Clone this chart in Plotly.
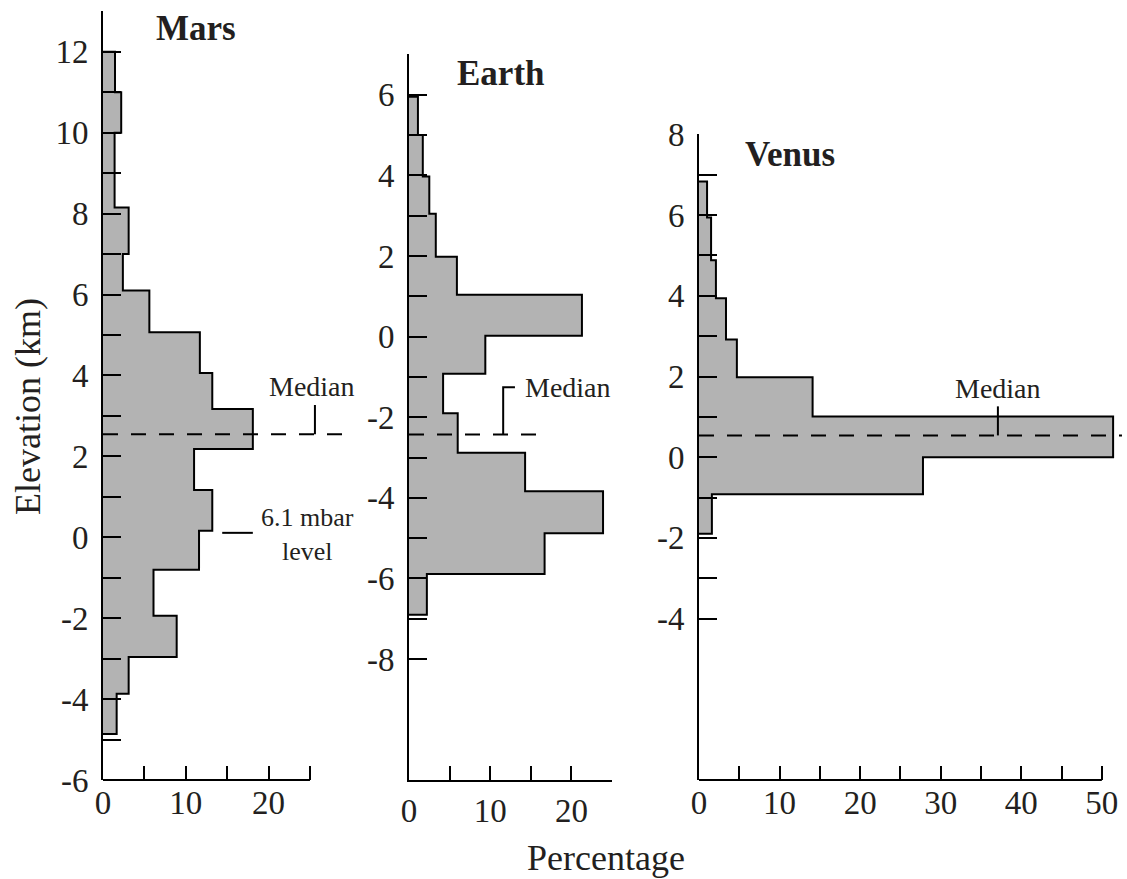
import plotly.graph_objects as go

# ---------------- data ----------------
# bin edges (km, bottom -> top) and percentage of surface per bin
mars_edges = [-4.86, -3.87, -2.96, -1.94, -0.80, 0.16, 1.17, 2.18, 3.17, 4.06,
              5.07, 6.10, 7.00, 8.15, 10.0, 11.0, 12.0]
mars_pct = [1.65, 3.1, 8.9, 6.1, 11.6, 13.2, 11.0, 18.1, 13.2, 11.7,
            5.6, 2.4, 3.1, 1.4, 2.2, 1.45]
mars_median = 2.55
mars_mbar_level = 0.11

earth_edges = [-6.90, -5.89, -4.88, -3.84, -2.88, -1.90, -0.92, 0.02, 1.04,
               1.98, 3.05, 3.97, 5.00, 5.95]
earth_pct = [2.2, 16.7, 23.9, 14.3, 6.0, 4.2, 9.4, 21.3, 5.9, 3.3, 2.5, 1.7, 1.1]
earth_median = -2.43

venus_edges = [-1.90, -0.92, 0.0, 1.01, 1.98, 2.92, 3.94, 4.88, 5.94, 6.83]
venus_pct = [1.6, 27.8, 51.4, 14.1, 4.7, 3.35, 2.1, 1.5, 1.0]
venus_median = 0.54

planet_names = ["Mars", "Earth", "Venus"]

# ---------------- styling ----------------
W, H = 1127, 879
FONT = "Liberation Serif, Times New Roman, serif"
TXT = "#231f20"
FILL = "#b3b3b3"
TICKSZ = 33


def step_outline(edges, pct):
    xs, ys = [0], [edges[0]]
    for lo, hi, v in zip(edges[:-1], edges[1:], pct):
        xs += [v, v]
        ys += [lo, hi]
    xs.append(0)
    ys.append(edges[-1])
    return xs, ys


def px_x(p):
    return p / W


def px_y(p):
    return 1 - p / H


fig = go.Figure()

panels = [
    dict(edges=mars_edges, pct=mars_pct, median=mars_median,
         xdom=[px_x(103), px_x(355.5)], xr=[0, 30.5], xaxis_end=25,
         ydom=[px_y(780), px_y(11)], yr=[-6, 13.01],
         ytv=list(range(-6, 14)), xtv=[0, 5, 10, 15, 20, 25], dash_end=29.8),
    dict(edges=earth_edges, pct=earth_pct, median=earth_median,
         xdom=[px_x(409), px_x(612.3)], xr=[0, 25.04], xaxis_end=25,
         ydom=[px_y(780), px_y(54)], yr=[-11, 7.01],
         ytv=list(range(-8, 8)), xtv=[0, 5, 10, 15, 20, 25], dash_end=16.1),
    dict(edges=venus_edges, pct=venus_pct, median=venus_median,
         xdom=[px_x(699), px_x(1126)], xr=[0, 53.0], xaxis_end=50,
         ydom=[px_y(780), px_y(134)], yr=[-8, 8.01],
         ytv=list(range(-4, 9)), xtv=list(range(0, 55, 5)), dash_end=52.5),
]

shapes = []
for i, p in enumerate(panels):
    n = "" if i == 0 else str(i + 1)
    xref, yref = "x" + n, "y" + n
    xs, ys = step_outline(p["edges"], p["pct"])
    fig.add_trace(go.Scatter(x=xs, y=ys, mode="lines", fill="toself",
                             fillcolor=FILL, line=dict(color="black", width=2),
                             xaxis=xref, yaxis=yref, hoverinfo="skip",
                             name=planet_names[i]))
    fig.add_trace(go.Scatter(x=[0, p["dash_end"]], y=[p["median"], p["median"]],
                             mode="lines",
                             line=dict(color="black", width=2, dash="15px,13px"),
                             xaxis=xref, yaxis=yref, hoverinfo="skip"))
    show_x_line = abs(p["xr"][1] - p["xaxis_end"]) < 0.1
    xlab = [str(v) if v % 10 == 0 else "" for v in p["xtv"]]
    ylab = [str(v) if v % 2 == 0 else "" for v in p["ytv"]]
    fig.update_layout(**{
        ("xaxis" + n): dict(domain=p["xdom"], range=p["xr"], anchor=yref,
                            showgrid=False, zeroline=False,
                            showline=show_x_line, linecolor="black", linewidth=2,
                            ticks="inside", ticklen=14, tickwidth=2, tickcolor="black",
                            tickvals=p["xtv"], ticktext=xlab,
                            tickfont=dict(family=FONT, size=TICKSZ, color=TXT),
                            ticklabelstandoff=0, automargin=False, fixedrange=True),
        ("yaxis" + n): dict(domain=p["ydom"], range=p["yr"], anchor=xref,
                            showgrid=False, zeroline=False,
                            showline=True, linecolor="black", linewidth=2,
                            ticks="inside", ticklen=18, tickwidth=2, tickcolor="black",
                            tickvals=p["ytv"], ticktext=ylab,
                            tickfont=dict(family=FONT, size=TICKSZ, color=TXT),
                            ticklabelstandoff=6, automargin=False, fixedrange=True),
    })
    if not show_x_line:
        shapes.append(dict(type="line", xref=xref + " domain", yref=yref + " domain",
                           x0=0, x1=p["xaxis_end"] / p["xr"][1], y0=0, y1=0,
                           line=dict(color="black", width=2)))

# median marker ticks
fig.add_trace(go.Scatter(x=[25.6, 25.6], y=[3.27, mars_median], mode="lines",
                         line=dict(color="black", width=2), xaxis="x", yaxis="y"))
fig.add_trace(go.Scatter(x=[13.05, 11.6, 11.6], y=[-1.26, -1.26, earth_median], mode="lines",
                         line=dict(color="black", width=2), xaxis="x2", yaxis="y2"))
fig.add_trace(go.Scatter(x=[37.1, 37.1], y=[1.26, venus_median], mode="lines",
                         line=dict(color="black", width=2), xaxis="x3", yaxis="y3"))
# 6.1 mbar level marker
fig.add_trace(go.Scatter(x=[14.4, 18.1], y=[mars_mbar_level, mars_mbar_level], mode="lines",
                         line=dict(color="black", width=2), xaxis="x", yaxis="y"))

ann_font = dict(family=FONT, size=28, color=TXT)
title_font = dict(family=FONT, size=35, color=TXT)
annotations = [
    dict(text="<b>Mars</b>", x=11.2, y=12.57, xref="x", yref="y", font=title_font),
    dict(text="<b>Earth</b>", x=11.3, y=6.52, xref="x2", yref="y2", font=title_font),
    dict(text="<b>Venus</b>", x=11.3, y=7.5, xref="x3", yref="y3", font=title_font),
    dict(text="Median", x=25.2, y=3.72, xref="x", yref="y", font=ann_font),
    dict(text="Median", x=14.0, y=-1.26, xref="x2", yref="y2", font=ann_font, xanchor="left"),
    dict(text="Median", x=37.1, y=1.71, xref="x3", yref="y3", font=ann_font),
    dict(text="6.1 mbar<br>level", x=18.84, y=0.08, xref="x", yref="y",
         font=dict(family=FONT, size=26, color=TXT), xanchor="left", align="center"),
    dict(text="Elevation (km)", x=px_x(28), y=px_y(407), xref="paper", yref="paper",
         textangle=-90, font=dict(family=FONT, size=36, color=TXT)),
    dict(text="Percentage", x=px_x(606), y=px_y(858), xref="paper", yref="paper",
         font=dict(family=FONT, size=36, color=TXT)),
]
for a in annotations:
    a.setdefault("showarrow", False)
    a.setdefault("xanchor", "center")
    a.setdefault("yanchor", "middle")

fig.update_layout(width=W, height=H, margin=dict(l=0, r=0, t=0, b=0),
                  paper_bgcolor="white", plot_bgcolor="white", showlegend=False,
                  annotations=annotations, shapes=shapes)

fig.write_html("out.html", config={"displayModeBar": False},
               post_script="document.body.style.margin='0';document.body.style.padding='0';"
                           "document.body.style.overflow='hidden';")
